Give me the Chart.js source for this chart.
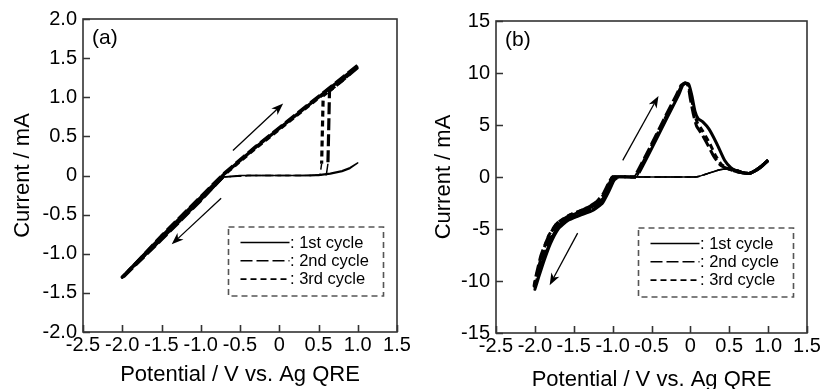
<!DOCTYPE html>
<html><head><meta charset="utf-8">
<script src="https://cdn.jsdelivr.net/npm/chart.js@4.4.1/dist/chart.umd.min.js"></script>
<style>
html,body{margin:0;padding:0;background:#fff;}
#wrap{position:relative;width:821px;height:389px;overflow:hidden;}
canvas{position:absolute;top:0;}
</style></head><body>
<div id="wrap">
<canvas id="ca" width="410" height="389" style="left:0"></canvas>
<canvas id="cb" width="411" height="389" style="left:410px"></canvas>
</div>
<script>
// ---------- data ----------
const xTickValues = [-2.5, -2.0, -1.5, -1.0, -0.5, 0, 0.5, 1.0, 1.5];
const yTickValuesA = [-2.0, -1.5, -1.0, -0.5, 0, 0.5, 1.0, 1.5, 2.0];
const yTickValuesB = [-15, -10, -5, 0, 5, 10, 15];
const cycleLabels = ['1st cycle', '2nd cycle', '3rd cycle'];
const xTitle = 'Potential / V vs. Ag QRE';
const yTitle = 'Current / mA';

// panel (a)
const potA1 = [0.0, 0.3, 0.5, 0.65, 0.8, 0.9, 1.0, 0.9, 0.8, 0.65, 0.5, 0.2, -0.2, -0.5, -0.72, -1.0, -1.5, -2.0, -1.5, -1.0, -0.7, -0.3, 0.0, 0.5, 1.0];
const curA1 = [0.0, 0.0, 0.01, 0.03, 0.06, 0.1, 0.16, 0.09, 0.05, 0.02, 0.0, 0.0, 0.0, 0.0, -0.02, -0.31, -0.81, -1.3, -0.78, -0.28, 0.02, 0.36, 0.6, 1.0, 1.4];
const potA2 = [1.0, 0.8, 0.64, 0.63, 0.62, 0.6, 0.4, 0.0, -0.4, -0.72, -1.0, -1.5, -2.0, -1.5, -1.0, -0.7, -0.3, 0.0, 0.5, 1.0];
const curA2 = [1.38, 1.21, 1.08, 0.6, 0.15, 0.01, 0.0, 0.0, 0.0, -0.02, -0.32, -0.82, -1.31, -0.77, -0.27, 0.03, 0.37, 0.61, 1.01, 1.41];
const potA3 = [1.0, 0.8, 0.56, 0.55, 0.54, 0.52, 0.4, 0.0, -0.4, -0.72, -1.0, -1.5, -2.0, -1.5, -1.0, -0.7, -0.3, 0.0, 0.5, 1.0];
const curA3 = [1.39, 1.21, 1.02, 0.6, 0.15, 0.01, 0.0, 0.0, 0.0, -0.02, -0.31, -0.81, -1.3, -0.79, -0.29, 0.01, 0.35, 0.59, 0.99, 1.39];

// panel (b)
const potB1 = [1.0, 0.93, 0.85, 0.76, 0.68, 0.6, 0.5, 0.38, 0.25, 0.12, 0.05, -0.3, -0.7, -1.0, -1.04, -1.08, -1.15, -1.3, -1.5, -1.65, -1.75, -1.84, -1.92, -1.97, -2.0, -1.95, -1.88, -1.8, -1.7, -1.58, -1.42, -1.25, -1.13, -1.05, -0.98, -0.92, -0.7, -0.66, -0.5, -0.3, -0.15, -0.1, -0.06, -0.02, 0.02, 0.06, 0.1, 0.16, 0.24, 0.34, 0.44, 0.52, 0.6, 0.68, 0.76, 0.85, 0.93, 1.0];
const curB1 = [1.6, 1.1, 0.65, 0.35, 0.4, 0.6, 0.8, 0.7, 0.4, 0.08, 0.0, 0.0, 0.0, 0.0, -0.6, -1.5, -2.3, -3.0, -3.6, -4.3, -5.4, -7.0, -8.8, -10.0, -10.8, -9.6, -8.0, -6.4, -5.0, -4.2, -3.7, -3.2, -2.5, -1.4, -0.3, 0.0, 0.0, 0.4, 2.7, 5.7, 7.9, 8.8, 9.05, 8.9, 7.8, 6.3, 5.6, 5.3, 4.6, 3.2, 1.6, 0.9, 0.55, 0.38, 0.35, 0.7, 1.15, 1.6];
const potB2 = [1.0, 0.93, 0.85, 0.76, 0.68, 0.6, 0.5, 0.38, 0.25, 0.12, 0.05, -0.3, -0.7, -1.0, -1.06, -1.12, -1.21, -1.37, -1.56, -1.72, -1.83, -1.92, -1.97, -2.0, -2.01, -1.96, -1.9, -1.82, -1.72, -1.6, -1.44, -1.27, -1.15, -1.07, -1.0, -0.95, -0.73, -0.69, -0.53, -0.33, -0.18, -0.12, -0.07, -0.03, 0.0, 0.04, 0.08, 0.15, 0.23, 0.3, 0.38, 0.48, 0.58, 0.68, 0.76, 0.85, 0.93, 1.0];
const curB2 = [1.6, 1.1, 0.65, 0.35, 0.4, 0.6, 0.8, 0.7, 0.4, 0.08, 0.0, 0.0, 0.0, 0.0, -0.7, -1.6, -2.4, -3.1, -3.7, -4.5, -5.8, -7.5, -9.0, -10.0, -10.5, -9.4, -7.9, -6.3, -4.9, -4.1, -3.6, -3.1, -2.4, -1.3, -0.3, 0.0, 0.0, 0.4, 2.7, 5.7, 7.9, 8.8, 9.05, 8.8, 7.5, 6.0, 4.9, 4.1, 3.0, 2.0, 1.2, 0.8, 0.55, 0.4, 0.35, 0.7, 1.15, 1.6];
const potB3 = [1.0, 0.93, 0.85, 0.76, 0.68, 0.6, 0.5, 0.38, 0.25, 0.12, 0.05, -0.3, -0.7, -1.0, -1.05, -1.1, -1.19, -1.35, -1.55, -1.71, -1.82, -1.9, -1.96, -1.99, -2.0, -1.96, -1.89, -1.81, -1.71, -1.59, -1.43, -1.26, -1.14, -1.06, -0.99, -0.94, -0.72, -0.68, -0.52, -0.32, -0.17, -0.11, -0.07, -0.03, 0.01, 0.05, 0.09, 0.16, 0.25, 0.32, 0.4, 0.5, 0.6, 0.68, 0.76, 0.85, 0.93, 1.0];
const curB3 = [1.6, 1.1, 0.65, 0.35, 0.4, 0.6, 0.8, 0.7, 0.4, 0.08, 0.0, 0.0, 0.0, 0.0, -0.65, -1.55, -2.35, -3.05, -3.65, -4.4, -5.6, -7.3, -8.9, -9.9, -10.6, -9.5, -8.0, -6.35, -4.95, -4.15, -3.65, -3.15, -2.45, -1.35, -0.3, 0.0, 0.0, 0.4, 2.7, 5.7, 7.9, 8.8, 9.05, 8.85, 7.7, 6.2, 5.2, 4.4, 3.2, 2.1, 1.2, 0.75, 0.5, 0.4, 0.35, 0.7, 1.15, 1.6];

// scan-direction arrows (potential / current of tail and head)
const arrowTailPotA = [-0.59, -0.74];
const arrowTailCurA = [0.32, -0.29];
const arrowHeadPotA = [0.05, -1.37];
const arrowHeadCurA = [0.92, -0.88];
const arrowTailPotB = [-0.87, -1.45];
const arrowTailCurB = [1.6, -5.4];
const arrowHeadPotB = [-0.41, -1.81];
const arrowHeadCurB = [7.8, -10.4];

// ---------- drawing ----------
const FONT = "'Liberation Sans', Arial, Helvetica, sans-serif";
const DASHES = [[], [12, 4], [6, 4]];

function drawArrow(ctx, x0, y0, x1, y1) {
  const a = Math.atan2(y1 - y0, x1 - x0), L = 12, W = 4.5;
  const c = Math.cos(a), s = Math.sin(a);
  ctx.beginPath(); ctx.moveTo(x0, y0); ctx.lineTo(x1 - c * L * 0.7, y1 - s * L * 0.7); ctx.stroke();
  ctx.beginPath();
  ctx.moveTo(x1, y1);
  ctx.lineTo(x1 - c * L + s * W, y1 - s * L - c * W);
  ctx.lineTo(x1 - c * L * 0.72, y1 - s * L * 0.72);
  ctx.lineTo(x1 - c * L - s * W, y1 - s * L + c * W);
  ctx.closePath(); ctx.fill();
}

function makeDecor(cfg) {
  return {
    id: 'decor',
    afterDatasetsDraw(chart) {
      const ctx = chart.ctx, ca = chart.chartArea, xs = chart.scales.x, ys = chart.scales.y;
      ctx.save();
      // arrows
      ctx.strokeStyle = '#000'; ctx.fillStyle = '#000'; ctx.lineWidth = 1.3; ctx.setLineDash([]);
      cfg.arrTP.forEach((p, i) => {
        drawArrow(ctx, xs.getPixelForValue(p), ys.getPixelForValue(cfg.arrTC[i]),
          xs.getPixelForValue(cfg.arrHP[i]), ys.getPixelForValue(cfg.arrHC[i]));
      });
      // frame + inward ticks
      ctx.strokeStyle = '#333'; ctx.lineWidth = 1.6;
      ctx.strokeRect(ca.left, ca.top, ca.right - ca.left, ca.bottom - ca.top);
      ctx.beginPath();
      xs.ticks.forEach(t => { const px = Math.round(xs.getPixelForValue(t.value)) + 0.5; ctx.moveTo(px, ca.bottom); ctx.lineTo(px, ca.bottom - 7); });
      ys.ticks.forEach(t => { const py = Math.round(ys.getPixelForValue(t.value)) + 0.5; ctx.moveTo(ca.left, py); ctx.lineTo(ca.left + 7, py); });
      ctx.stroke();
      // panel label
      ctx.fillStyle = '#000'; ctx.font = '21px ' + FONT; ctx.textBaseline = 'middle'; ctx.textAlign = 'left';
      ctx.fillText(cfg.label, ca.left + 9, ca.top + 19);
      // legend
      const bw = 155, bh = 69;
      const bx = ca.right - 13.5 - bw, by = ca.bottom - 36 - bh;
      ctx.fillStyle = '#fff'; ctx.fillRect(bx, by, bw, bh);
      ctx.setLineDash([6, 4]); ctx.strokeStyle = '#555'; ctx.lineWidth = 1.6;
      ctx.strokeRect(bx, by, bw, bh);
      ctx.font = '16.5px ' + FONT; ctx.fillStyle = '#000';
      chart.data.datasets.forEach((ds, i) => {
        const y = by + 15.5 + i * 18.3;
        ctx.setLineDash(ds.borderDash || []); ctx.strokeStyle = '#000'; ctx.lineWidth = 1.6;
        ctx.beginPath(); ctx.moveTo(bx + 12, y); ctx.lineTo(bx + 61, y); ctx.stroke();
        ctx.setLineDash([]);
        ctx.fillText(': ' + ds.label, bx + 61.5, y + 0.5);
      });
      ctx.restore();
    }
  };
}

function fmt1(v) { return v === 0 ? '0' : v.toFixed(1); }

function makeChart(id, cfg) {
  const datasets = cfg.series.map((s, i) => ({
    label: cycleLabels[i],
    data: s.pot.map((v, k) => ({ x: v, y: s.cur[k] })),
    showLine: true, pointRadius: 0, pointHoverRadius: 0,
    borderColor: '#000', borderWidth: cfg.thick, borderDash: DASHES[i],
    borderJoinStyle: 'round', borderCapStyle: 'butt', tension: cfg.tension, fill: false,
    segment: {
      borderWidth: c => (cfg.isThin(c.p0.parsed) && cfg.isThin(c.p1.parsed)) ? cfg.thin : cfg.thick
    }
  }));
  return new Chart(document.getElementById(id), {
    type: 'scatter',
    data: { datasets },
    options: {
      responsive: false, animation: false, devicePixelRatio: 1,
      layout: { padding: { left: 0, right: cfg.padR, top: cfg.padT, bottom: 0 } },
      plugins: { legend: { display: false }, tooltip: { enabled: false } },
      events: [],
      scales: {
        x: {
          type: 'linear', min: -2.5, max: 1.5,
          afterBuildTicks: s => { s.ticks = xTickValues.map(v => ({ value: v })); },
          afterFit: s => { s.height = cfg.xH; s.paddingLeft = 0; s.paddingRight = 0; },
          grid: { display: false, drawTicks: false }, border: { display: false },
          ticks: { autoSkip: false, maxRotation: 0, minRotation: 0, padding: 1.5, color: '#000',
            font: { family: FONT, size: 20 }, callback: v => fmt1(v) },
          title: { display: true, text: xTitle, color: '#000',
            font: { family: FONT, size: 22, lineHeight: 0.8 }, padding: { top: 0, bottom: cfg.xTitlePadB } }
        },
        y: {
          type: 'linear', min: cfg.yMin, max: cfg.yMax,
          afterBuildTicks: s => { s.ticks = cfg.yTicks.map(v => ({ value: v })); },
          afterFit: s => { s.width = cfg.yW; s.paddingTop = 0; s.paddingBottom = 0; },
          grid: { display: false, drawTicks: false }, border: { display: false },
          ticks: { autoSkip: false, padding: 6, color: '#000',
            font: { family: FONT, size: 20 }, callback: v => cfg.yFmt(v) },
          title: { display: true, text: yTitle, color: '#000',
            font: { family: FONT, size: 22, lineHeight: 0.8 }, padding: { top: cfg.yTitlePadT, bottom: 0 } }
        }
      }
    },
    plugins: [makeDecor(cfg)]
  });
}

makeChart('ca', {
  label: '(a)',
  series: [{ pot: potA1, cur: curA1 }, { pot: potA2, cur: curA2 }, { pot: potA3, cur: curA3 }],
  yTicks: yTickValuesA, yMin: -2, yMax: 2, yFmt: fmt1,
  thick: 3.2, thin: 1.5, tension: 0,
  isThin: p => Math.abs(p.y) < 0.2 && p.x > -0.75,
  padR: 13, padT: 19, xH: 57, yW: 83, xTitlePadB: 5.7, yTitlePadT: 14.2,
  arrTP: arrowTailPotA, arrTC: arrowTailCurA, arrHP: arrowHeadPotA, arrHC: arrowHeadCurA
});

makeChart('cb', {
  label: '(b)',
  series: [{ pot: potB1, cur: curB1 }, { pot: potB2, cur: curB2 }, { pot: potB3, cur: curB3 }],
  yTicks: yTickValuesB, yMin: -15, yMax: 15, yFmt: v => String(v),
  thick: 3.0, thin: 1.5, tension: 0.15,
  isThin: p => Math.abs(p.y) < 0.9 && p.x > -0.96 && p.x < 0.55,
  padR: 14, padT: 21, xH: 56, yW: 86, xTitlePadB: 0.7, yTitlePadT: 25.2,
  arrTP: arrowTailPotB, arrTC: arrowTailCurB, arrHP: arrowHeadPotB, arrHC: arrowHeadCurB
});
</script>
</body></html>
